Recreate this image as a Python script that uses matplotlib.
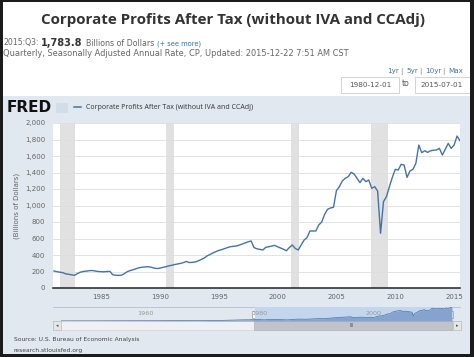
import matplotlib
matplotlib.use('Agg')
import matplotlib.pyplot as plt
from matplotlib.patches import Rectangle
import numpy as np

W, H = 474, 357

# Corporate profits after tax, quarterly 1981Q1 .. 2015Q3 (billions of dollars)
profits = [
    206, 198, 192, 186,      # 1981
    172, 166, 160, 154,      # 1982
    175, 192, 200, 205,      # 1983
    210, 212, 206, 200,      # 1984
    198, 196, 200, 202,      # 1985
    160, 155, 153, 156,      # 1986
    175, 200, 212, 222,      # 1987
    235, 246, 252, 256,      # 1988
    258, 252, 242, 236,      # 1989
    240, 250, 258, 268,      # 1990
    275, 284, 291, 298,      # 1991
    308, 322, 308, 312,      # 1992
    315, 328, 345, 362,      # 1993
    388, 405, 425, 440,      # 1994
    455, 465, 478, 490,      # 1995
    501, 505, 509, 520,      # 1996
    533, 545, 560, 570,      # 1997
    490, 475, 468, 461,      # 1998
    493, 500, 508, 517,      # 1999
    500, 485, 470, 452,      # 2000
    490, 521, 480, 461,      # 2001
    520, 580, 610, 691,      # 2002
    691, 691, 764, 800,      # 2003
    893, 954, 970, 978,      # 2004
    1180, 1228, 1297, 1330,  # 2005
    1349, 1402, 1382, 1330,  # 2006
    1277, 1329, 1289, 1309,  # 2007
    1208, 1228, 1176, 663,   # 2008
    1047, 1107, 1228, 1341,  # 2009
    1438, 1430, 1499, 1491,  # 2010
    1341, 1418, 1438, 1511,  # 2011
    1733, 1640, 1664, 1644,  # 2012
    1664, 1670, 1673, 1693,  # 2013
    1612, 1681, 1753, 1693,  # 2014
    1733, 1842, 1783.8,      # 2015
]
first_quarter = 1981.0

# older annual values, only shown in the navigator strip
nav_years = list(range(1947, 1981))
nav_values = [20, 23, 19, 25, 22, 20, 20, 20, 27, 27, 26, 22, 28, 27, 27, 31, 34,
              39, 46, 49, 46, 47, 44, 37, 44, 52, 68, 78, 80, 100, 118, 138, 160, 165]

recessions = [(1981.5, 1982.83), (1990.5, 1991.17), (2001.17, 2001.83), (2007.92, 2009.42)]

y_ticks = [0, 200, 400, 600, 800, 1000, 1200, 1400, 1600, 1800, 2000]
x_ticks = [1985, 1990, 1995, 2000, 2005, 2010, 2015]
nav_ticks = [1960, 1980, 2000]

view_start, view_end = 1980.92, 2015.5

panel_col = '#e1e8ef'
line_col = '#4572a7'


def box(x0, y0, x1, y1):
    # pixel box -> figure fraction
    return [x0 / W, 1 - y1 / H, (x1 - x0) / W, (y1 - y0) / H]


fig = plt.figure(figsize=(W / 100, H / 100), dpi=100)

# background layer in pixel coordinates
bg = fig.add_axes([0, 0, 1, 1], zorder=0)
bg.set_xlim(0, W)
bg.set_ylim(H, 0)
bg.axis('off')
bg.add_patch(Rectangle((0, 0), W, 96, fc='white', ec='none'))
bg.add_patch(Rectangle((0, 96), W, H - 96, fc=panel_col, ec='none'))
bg.add_patch(Rectangle((53, 123), 407, 165, fc='white', ec='none'))

# header
bg.text(233, 24, 'Corporate Profits After Tax (without IVA and CCAdj)', ha='center',
        va='baseline', fontsize=10.9, fontweight='bold', color='#333333', family='Open Sans')

fig.canvas.draw()
rend = fig.canvas.get_renderer()


def put_row(x, y, pieces):
    for txt, size, weight, col in pieces:
        t = bg.text(x, y, txt, fontsize=size, fontweight=weight, color=col,
                    va='baseline', ha='left', family='DejaVu Sans')
        bb = t.get_window_extent(rend)
        x = bb.x1 + 2.8


put_row(3, 45.5, [('2015:Q3:', 5.6, 'normal', '#666666'),
                  ('1,783.8', 7.0, 'bold', '#333333'),
                  ('Billions of Dollars', 5.7, 'normal', '#666666'),
                  ('(+ see more)', 4.8, 'normal', '#3a6aaa')])
bg.text(3, 56.5, 'Quarterly, Seasonally Adjusted Annual Rate, CP, Updated: 2015-12-22 7:51 AM CST',
        fontsize=5.95, color='#666666', va='baseline', family='DejaVu Sans')

bg.text(387, 73, '1yr', fontsize=5.2, color='#4a72a8', va='baseline')
bg.text(400, 73, '|', fontsize=5.2, color='#888888', va='baseline')
bg.text(406, 73, '5yr', fontsize=5.2, color='#4a72a8', va='baseline')
bg.text(419, 73, '|', fontsize=5.2, color='#888888', va='baseline')
bg.text(425, 73, '10yr', fontsize=5.2, color='#4a72a8', va='baseline')
bg.text(442, 73, '|', fontsize=5.2, color='#888888', va='baseline')
bg.text(448, 73, 'Max', fontsize=5.2, color='#4a72a8', va='baseline')

bg.add_patch(Rectangle((341, 77), 58, 16, fc='white', ec='#cccccc', lw=0.6))
bg.text(370, 85, '1980-12-01', fontsize=5.2, color='#555555', ha='center', va='center')
bg.text(406, 84, 'to', fontsize=5.6, color='#555555', ha='center', va='center')
bg.add_patch(Rectangle((415, 77), 70, 16, fc='white', ec='#cccccc', lw=0.6))
bg.text(442, 85, '2015-07-01', fontsize=5.2, color='#555555', ha='center', va='center')

# FRED logo and legend
bg.text(7, 112, 'FRED', fontsize=11, fontweight='heavy', color='#111111', va='baseline')
bg.add_patch(Rectangle((56, 103), 12, 10, fc='#d3dde6', ec='none'))
bg.plot([74, 81], [107, 107], color=line_col, lw=1.1)
bg.text(86, 107.5, 'Corporate Profits After Tax (without IVA and CCAdj)', fontsize=5.0,
        color='#333333', va='center', family='Open Sans')

bg.text(17, 206, '(Billions of Dollars)', rotation=90, fontsize=5, color='#666666',
        ha='center', va='center')

# source lines
bg.text(14, 340, 'Source: U.S. Bureau of Economic Analysis', fontsize=4.3, color='#444444',
        va='center')
bg.text(14, 350.5, 'research.stlouisfed.org', fontsize=4.3, color='#444444', va='center')

# main chart
ax = fig.add_axes(box(53, 123, 460, 288), zorder=1)
ax.set_facecolor('none')
x_q = first_quarter + 0.25 * np.arange(len(profits))
for a, b in recessions:
    ax.axvspan(a, b, color='#e1e1e1', lw=0, zorder=0)
ax.plot(x_q, profits, color=line_col, lw=1.0, zorder=3)
ax.set_xlim(view_start, view_end)
ax.set_ylim(0, 2000)
ax.set_yticks(y_ticks)
ax.set_yticklabels([f'{v:,}' for v in y_ticks])
ax.set_xticks(x_ticks)
ax.yaxis.grid(True, color='#dedede', lw=0.6, zorder=1)
ax.set_axisbelow(True)
for s in ['top', 'left', 'right']:
    ax.spines[s].set_visible(False)
ax.spines['bottom'].set_color('#222222')
ax.spines['bottom'].set_linewidth(1.1)
ax.spines['bottom'].set_zorder(4)
ax.tick_params(axis='y', length=0, pad=5.5, labelsize=5, labelcolor='#666666')
ax.tick_params(axis='x', length=0, pad=4, labelsize=5, labelcolor='#666666')

# navigator strip
bg.plot([53, 460], [306.5, 306.5], color='#b4c0d0', lw=0.6)
nav = fig.add_axes(box(61, 307, 452, 321), zorder=1)
nav.set_facecolor('#e8eef5')
nav.axvspan(view_start, view_end, color='#c4d6ed', lw=0)
nav_x = list(nav_years) + list(x_q)
nav_y = list(nav_values) + list(profits)
nav.fill_between(nav_x, nav_y, color='#86a3cd', lw=0)
nav.plot(nav_x, nav_y, color=line_col, lw=0.5)
nav.set_xlim(1947, view_end)
nav.set_ylim(0, 1880)
nav.axis('off')
for yr in nav_ticks:
    nav.text(yr + 0.4, 1000, str(yr), fontsize=4.6, color='#999999', va='center', ha='left')

# handles
bg.add_patch(Rectangle((252, 311), 3.5, 7, fc='white', ec='#999999', lw=0.5, zorder=3))
bg.add_patch(Rectangle((450, 311), 3.5, 7, fc='white', ec='#999999', lw=0.5, zorder=3))

# scrollbar
bg.add_patch(Rectangle((53, 321), 408, 9, fc='#eef0f3', ec='#d0d4da', lw=0.5))
bg.add_patch(Rectangle((254, 321), 198, 9, fc='#c0c4ca', ec='#b0b4ba', lw=0.5))
bg.text(352, 325.5, 'III', fontsize=3.5, color='#555555', ha='center', va='center')
bg.add_patch(Rectangle((53, 321), 8, 9, fc='#e6e6e6', ec='#bbbbbb', lw=0.5))
bg.add_patch(Rectangle((453, 321), 8, 9, fc='#e6e6e6', ec='#bbbbbb', lw=0.5))
bg.text(57, 325.5, '◂', fontsize=3.5, color='#555555', ha='center', va='center')
bg.text(457, 325.5, '▸', fontsize=3.5, color='#555555', ha='center', va='center')

# dark frame on top
top = fig.add_axes([0, 0, 1, 1], zorder=10)
top.set_xlim(0, W)
top.set_ylim(H, 0)
top.axis('off')
top.patch.set_alpha(0)
frame = '#1b1b1b'
top.add_patch(Rectangle((0, 0), 3, H, fc=frame, ec='none'))
top.add_patch(Rectangle((0, 0), W, 2, fc=frame, ec='none'))
top.add_patch(Rectangle((470, 0), 4, H, fc=frame, ec='none'))
top.add_patch(Rectangle((0, 353.5), W, 4, fc=frame, ec='none'))

fig.savefig('out.png', dpi=100)
